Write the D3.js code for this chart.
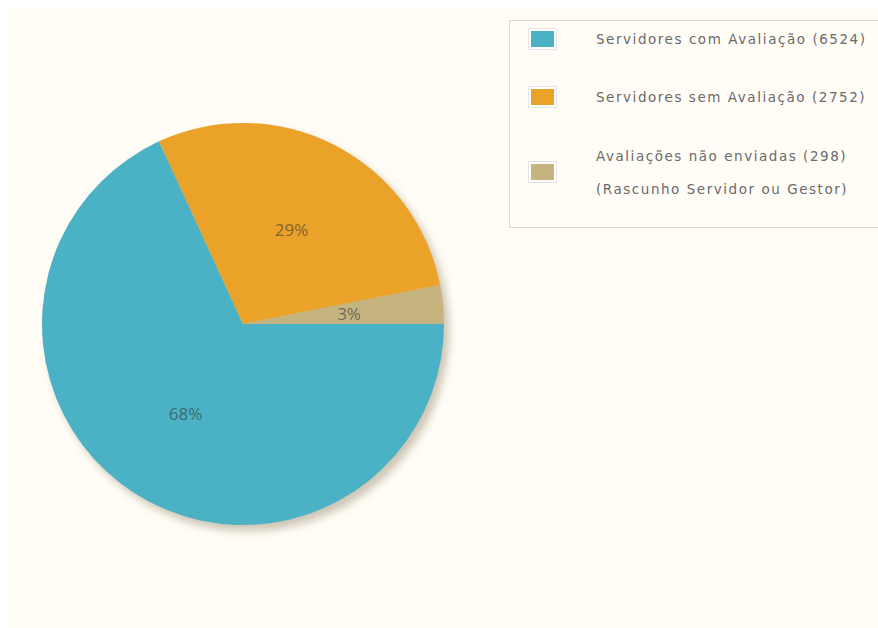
<!DOCTYPE html>
<html><head><meta charset="utf-8">
<script src="https://cdn.jsdelivr.net/npm/d3@7"></script>
<style>html,body{margin:0;padding:0;background:#fff;}svg{display:block;}</style>
</head><body>
<svg id="c" width="878" height="628"></svg>
<script>
const categories = ["Servidores com Avaliação (6524)", "Servidores sem Avaliação (2752)", "Avaliações não enviadas (298)"];
const legendLines = [["Servidores com Avaliação (6524)"], ["Servidores sem Avaliação (2752)"], ["Avaliações não enviadas (298)", "(Rascunho Servidor ou Gestor)"]];
const values = [6524, 2752, 298];
const colors = ["#4bb2c5", "#eaa228", "#c5b47f"];

const svg = d3.select("#c");
svg.append("rect").attr("x", 7).attr("y", 7).attr("width", 871).attr("height", 621).attr("fill", "#fffdf6");

const defs = svg.append("defs");
const f = defs.append("filter").attr("id", "sh").attr("x", "-20%").attr("y", "-20%").attr("width", "140%").attr("height", "140%");
f.append("feGaussianBlur").attr("stdDeviation", 4);

const cx = 243, cy = 324, r = 201;
const pie = d3.pie().sort(null).value(d => d).startAngle(Math.PI / 2).endAngle(Math.PI / 2 + 2 * Math.PI);
const arcs = pie(values);
const arc = d3.arc().innerRadius(0).outerRadius(r);
const total = d3.sum(values);

const g = svg.append("g").attr("transform", `translate(${cx},${cy})`);
g.append("circle").attr("cx", 5).attr("cy", 6).attr("r", r).attr("fill", "#9c8e74").attr("opacity", 0.5).attr("filter", "url(#sh)");
g.selectAll("path.s").data(arcs).join("path").attr("class", "s").attr("d", arc).attr("fill", (d, i) => colors[i]);

const labelArc = d3.arc().innerRadius(r * 0.53).outerRadius(r * 0.53);
g.selectAll("text.l").data(arcs).join("text").attr("class", "l")
  .attr("transform", d => `translate(${labelArc.centroid(d)})`)
  .attr("text-anchor", "middle").attr("dominant-baseline", "central")
  .attr("font-family", "Open Sans, sans-serif").attr("font-size", 17)
  .attr("fill", "#333").attr("fill-opacity", 0.6)
  .text(d => Math.round(d.value / total * 100) + "%");

// legend
const lg = svg.append("g");
lg.append("rect").attr("x", 509.5).attr("y", 20.5).attr("width", 380).attr("height", 207).attr("fill", "#fffdf6").attr("stroke", "#d8d8d8");
const rowY = [39, 97, 172];
const rows = lg.selectAll("g.r").data(legendLines).join("g").attr("class", "r");
rows.append("rect").attr("x", 528.5).attr("y", (d, i) => rowY[i] - 10.5).attr("width", 28).attr("height", 21)
  .attr("fill", "#ffffff").attr("stroke", "#e4e4e4");
rows.append("rect").attr("x", 531).attr("y", (d, i) => rowY[i] - 8).attr("width", 23).attr("height", 16)
  .attr("fill", (d, i) => colors[i]);
const texts = [];
rows.each(function (lines, i) {
  const n = lines.length;
  lines.forEach((t, j) => {
    texts.push(d3.select(this).append("text").attr("x", 596)
      .attr("y", rowY[i] + (n === 1 ? 0 : (j === 0 ? -16 : 17)))
      .attr("dominant-baseline", "central")
      .attr("font-family", "DejaVu Sans, sans-serif").attr("font-size", 13.5).attr("fill", "#6a6a6a")
      .text(t));
  });
});
const k = 269 / texts[0].node().getComputedTextLength();
texts.forEach(t => {
  const w = t.node().getComputedTextLength();
  t.attr("textLength", w * k).attr("lengthAdjust", "spacing");
});
</script>
</body></html>
